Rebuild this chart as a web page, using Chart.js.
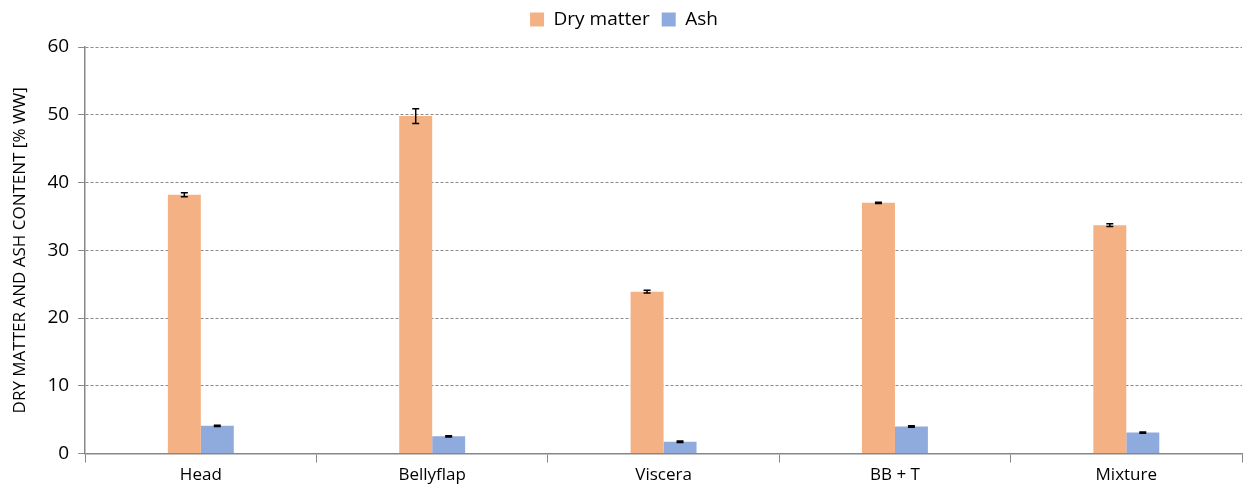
<!DOCTYPE html>
<html>
<head>
<meta charset="utf-8">
<script src="https://cdn.jsdelivr.net/npm/chart.js@4/dist/chart.umd.min.js"></script>
<style>
  body { margin: 0; background: #fff; }
  #wrap { width: 1244px; height: 493px; }
</style>
</head>
<body>
<div id="wrap"><canvas id="chart"></canvas></div>
<script>
// categories and values (% WW)
const categories = ["Head", "Bellyflap", "Viscera", "BB + T", "Mixture"];
const dryMatter = [38.2, 49.8, 23.9, 37.0, 33.7];
const dryMatterErr = [0.3, 1.1, 0.2, 0.1, 0.2];
const ash = [4.1, 2.55, 1.75, 4.0, 3.1];
const ashErr = [0.1, 0.1, 0.1, 0.1, 0.1];
const yTicks = [0, 10, 20, 30, 40, 50, 60];

const errors = [dryMatterErr, ashErr];

// draw error bars on top of the bars
const errorBars = {
  id: "errorBars",
  afterDatasetsDraw(chart) {
    const ctx = chart.ctx;
    const y = chart.scales.y;
    ctx.save();
    ctx.strokeStyle = "#000";
    ctx.lineWidth = 1.5;
    chart.data.datasets.forEach((ds, i) => {
      const meta = chart.getDatasetMeta(i);
      meta.data.forEach((bar, j) => {
        const v = ds.data[j];
        const e = errors[i][j];
        const top = y.getPixelForValue(v + e);
        const bot = y.getPixelForValue(v - e);
        ctx.beginPath();
        ctx.moveTo(bar.x, top);
        ctx.lineTo(bar.x, bot);
        ctx.moveTo(bar.x - 3.5, top);
        ctx.lineTo(bar.x + 3.5, top);
        ctx.moveTo(bar.x - 3.5, bot);
        ctx.lineTo(bar.x + 3.5, bot);
        ctx.stroke();
      });
    });
    ctx.restore();
  }
};

// extra space under the legend
const legendGap = {
  id: "legendGap",
  beforeInit(chart) {
    const fit = chart.legend.fit;
    chart.legend.fit = function () {
      fit.call(this);
      this.height += 8;
    };
  }
};

const ctx = document.getElementById("chart").getContext("2d");
new Chart(ctx, {
  type: "bar",
  data: {
    labels: categories,
    datasets: [
      { label: "Dry matter", data: dryMatter, backgroundColor: "#F4B183" },
      { label: "Ash", data: ash, backgroundColor: "#8FAADC" }
    ]
  },
  options: {
    responsive: true,
    maintainAspectRatio: false,
    animation: false,
    layout: { padding: { top: -2, right: 2, left: 6, bottom: 6 } },
    datasets: { bar: { categoryPercentage: 0.285, barPercentage: 1 } },
    plugins: {
      tooltip: { enabled: false },
      legend: {
        position: "top",
        labels: {
          boxWidth: 14, boxHeight: 14, padding: 12,
          color: "#000",
          font: { family: "Open Sans", size: 19 }
        }
      }
    },
    scales: {
      x: {
        grid: {
          offset: true, drawOnChartArea: false, drawTicks: true,
          tickLength: 9, color: "#888", lineWidth: 1
        },
        border: { color: "#888", width: 1.5 },
        ticks: { color: "#000", font: { family: "Open Sans", size: 17 }, padding: 2 }
      },
      y: {
        min: 0, max: 60,
        afterBuildTicks: s => { s.ticks = yTicks.map(v => ({ value: v })); },
        grid: {
          color: c => c.tick && c.tick.value === 0 ? "rgba(0,0,0,0)" : "#8a8a8a",
          tickColor: "#888", tickLength: 7, lineWidth: 1
        },
        border: { color: "#888", width: 1.5, dash: [3, 2] },
        ticks: { color: "#000", font: { family: "Open Sans", size: 19 }, padding: 9 },
        title: {
          display: true, text: "DRY MATTER AND ASH CONTENT [% WW]",
          color: "#000", font: { family: "Open Sans", size: 17 }, padding: { bottom: 8 }
        }
      }
    }
  },
  plugins: [errorBars, legendGap]
});
</script>
</body>
</html>
